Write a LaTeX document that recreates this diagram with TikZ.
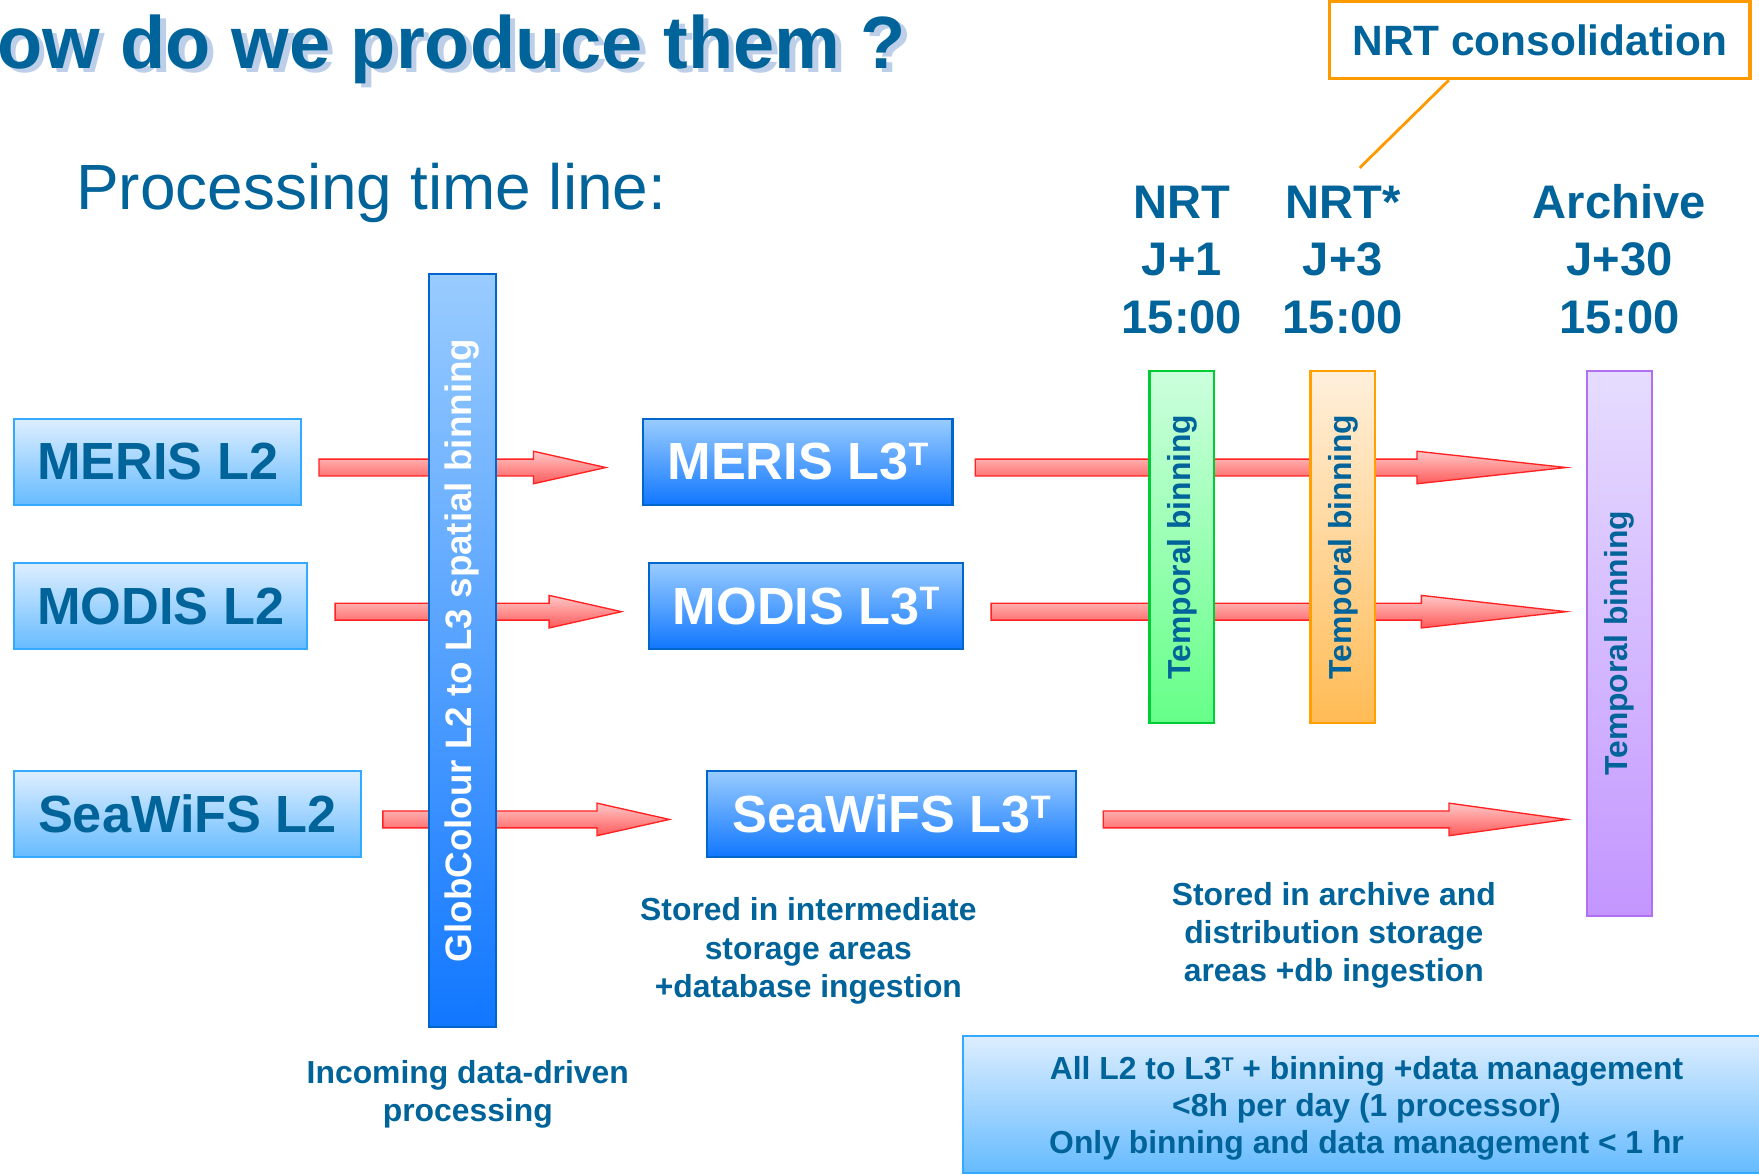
\documentclass[tikz,border=0pt]{standalone}
\usepackage{fontspec}
\setmainfont{Liberation Sans}
\usepackage{graphicx}
\usetikzlibrary{positioning,calc}
\pgfdeclarelayer{background}
\pgfsetlayers{background,main}
\definecolor{ptltext}{RGB}{0,99,153}
\definecolor{ptlshadow}{RGB}{189,207,232}
\definecolor{ptlorange}{RGB}{255,153,0}
\definecolor{ptltwotop}{RGB}{221,238,255}
\definecolor{ptltwobot}{RGB}{102,187,255}
\definecolor{ptltwoline}{RGB}{51,170,255}
\definecolor{ptlthreetop}{RGB}{153,204,255}
\definecolor{ptlthreebot}{RGB}{17,119,255}
\definecolor{ptlthreeline}{RGB}{0,102,204}
\definecolor{ptlarrowtop}{RGB}{255,200,200}
\definecolor{ptlarrowbot}{RGB}{255,90,90}
\definecolor{ptlarrowline}{RGB}{255,34,34}
\definecolor{ptlgreentop}{RGB}{204,255,221}
\definecolor{ptlgreenbot}{RGB}{102,255,136}
\definecolor{ptlgreenline}{RGB}{0,204,51}
\definecolor{ptlambertop}{RGB}{255,240,220}
\definecolor{ptlamberbot}{RGB}{255,187,85}
\definecolor{ptlamberline}{RGB}{255,160,0}
\definecolor{ptlvioletop}{RGB}{230,220,255}
\definecolor{ptlviolebot}{RGB}{195,150,255}
\definecolor{ptlvioleline}{RGB}{176,112,240}
\tikzstyle{l2box} = [draw = ptltwoline, line width = 1pt, top color = ptltwotop, bottom color = ptltwobot, text = ptltext, font = \bfseries\fontsize{23.3}{28}\selectfont, minimum height = 38.25pt, inner sep = 0pt]
\tikzstyle{l3box} = [l2box, draw = ptlthreeline, top color = ptlthreetop, bottom color = ptlthreebot, text = white]
\tikzstyle{binbar} = [line width = 1pt, minimum width = 28.85pt, inner sep = 0pt]
\tikzstyle{bartext} = [rotate = 90, text = ptltext, font = \bfseries\fontsize{14.2}{17}\selectfont]
\tikzstyle{redarrow} = [draw = ptlarrowline, line width = 0.6pt, top color = ptlarrowtop, bottom color = ptlarrowbot]
\tikzstyle{timelabel} = [align = center, inner sep = 0pt, text = ptltext, font = \bfseries\fontsize{21}{25.5}\selectfont]
\tikzstyle{notelabel} = [align = center, inner sep = 0pt, anchor = north, text = ptltext, font = \bfseries\fontsize{14.2}{17}\selectfont]
\newcommand{\lthree}{L3\raisebox{0.27em}{\scalebox{0.62}{T}}}
\newcommand{\ptlarrow}[3]{%
	\path[redarrow] ($(#1)+(0,-7.5)$) -- ($(#2)+(-#3,-7.5)$) -- ($(#2)+(-#3,-14.5)$) -- (#2) -- ($(#2)+(-#3,14.5)$) -- ($(#2)+(-#3,7.5)$) -- ($(#1)+(0,7.5)$) -- cycle;%
}

\begin{document}
\begin{tikzpicture}[x = 0.5pt, y = -0.5pt]
\useasboundingbox (0,0) rectangle (1568,1047.4);
\clip (0,0) rectangle (1568,1047.4);
\node[anchor = base west, inner sep = 0pt, text = ptlshadow, font = \bfseries\fontsize{33}{40}\selectfont] (titleshadow) at (2,64.6) {ow do we produce them ?};
\node[anchor = base west, inner sep = 0pt, text = ptltext, font = \bfseries\fontsize{33}{40}\selectfont] (title) at (-3,61) {ow do we produce them ?};
\node[anchor = base west, inner sep = 0pt, text = ptltext, font = \fontsize{28.5}{34}\selectfont] (subtitle) at (67.6,187) {Processing time line:};
\node[draw = ptlorange, line width = 1.5pt, minimum width = 187.5pt, minimum height = 34.25pt, inner sep = 0pt, text = ptltext, font = \bfseries\fontsize{18.9}{22}\selectfont] (nrtc) at (1372.5,35.75) {NRT consolidation};
\node[l2box, minimum width = 127.95pt] (merisA) at (140.65,411.75) {MERIS L2};
\node[l2box, minimum width = 130.55pt] (modisA) at (143.25,540.25) {MODIS L2};
\node[l2box, minimum width = 154.4pt] (seawifsA) at (167.1,725.45) {SeaWiFS L2};
\node[l3box, minimum width = 137.75pt] (merisB) at (711.25,411.75) {MERIS \lthree};
\node[l3box, minimum width = 140.1pt] (modisB) at (718.6,540.25) {MODIS \lthree};
\node[l3box, minimum width = 164.2pt] (seawifsB) at (794.7,725.45) {SeaWiFS \lthree};
\node[binbar, draw = ptlthreeline, top color = ptlthreetop, bottom color = ptlthreebot, minimum width = 29.85pt, minimum height = 335.7pt, label = {[rotate = 90, text = white, font = \bfseries\fontsize{16.4}{20}\selectfont]center:GlobColour L2 to L3 spatial binning}] (globbar) at (412.25,579.9) {};
\node[binbar, draw = ptlgreenline, top color = ptlgreentop, bottom color = ptlgreenbot, minimum height = 156.9pt, label = {[bartext]center:Temporal binning}] (tbA) at (1053.55,487.6) {};
\node[binbar, draw = ptlamberline, top color = ptlambertop, bottom color = ptlamberbot, minimum height = 156.9pt, label = {[bartext]center:Temporal binning}] (tbB) at (1197.05,487.6) {};
\node[binbar, draw = ptlvioleline, top color = ptlvioletop, bottom color = ptlviolebot, minimum height = 242.75pt, label = {[bartext]center:Temporal binning}] (tbC) at (1443.5,573.45) {};
\node[timelabel, above = 16pt of tbA] (nrtA) {NRT\\J+1\\15:00};
\node[timelabel, above = 16pt of tbB] (nrtB) {NRT*\\J+3\\15:00};
\node[timelabel, above = 16pt of tbC] (nrtC) {Archive\\J+30\\15:00};
\coordinate (nrtpt) at ($(nrtB.north)+(15,-16)$);
\draw[ptlorange, line width = 1.25pt] ($(nrtc.south west)+(108,0)$) -- (nrtpt);
\node[notelabel] (noteA) at (417,944.9) {Incoming data-driven\\processing};
\node[notelabel] (noteB) at (720.6,799.9) {Stored in intermediate\\storage areas\\+database ingestion};
\node[notelabel] (noteC) at (1189,785.9) {Stored in archive and\\distribution storage\\areas +db ingestion};
\node[draw = ptltwoline, line width = 1pt, top color = ptltwotop, bottom color = ptltwobot, minimum width = 359.85pt, minimum height = 61.05pt, inner sep = 0pt, align = center, text = ptltext, font = \bfseries\fontsize{14.2}{16.5}\selectfont] (summary) at (1218.15,984.25) {\rule{0pt}{14.4pt}All L2 to \lthree{} + binning +data management\\<8h per day (1 processor)\\Only binning and data management < 1 hr};
\coordinate (aMs) at ($(merisA.east)+(14.8,5)$);
\coordinate (aMt) at ($(merisB.west)+(-32.5,5)$);
\coordinate (aDs) at ($(modisA.east)+(23.9,5)$);
\coordinate (aDt) at ($(modisB.west)+(-23.5,5)$);
\coordinate (aSs) at ($(seawifsA.east)+(18.8,5)$);
\coordinate (aSt) at ($(seawifsB.west)+(-32.8,5)$);
\coordinate (bMs) at ($(merisB.east)+(19.3,5)$);
\coordinate (bMt) at ($(merisB.east -| tbC.west)+(-17.6,5)$);
\coordinate (bDs) at ($(modisB.east)+(23.8,5)$);
\coordinate (bDt) at ($(modisB.east -| tbC.west)+(-17.6,5)$);
\coordinate (bSs) at ($(seawifsB.east)+(23.5,5)$);
\coordinate (bSt) at ($(seawifsB.east -| tbC.west)+(-17,5)$);
\begin{pgfonlayer}{background}
\ptlarrow{aMs}{aMt}{64.5}
\ptlarrow{aDs}{aDt}{64.5}
\ptlarrow{aSs}{aSt}{64.5}
\ptlarrow{bMs}{bMt}{133}
\ptlarrow{bDs}{bDt}{129}
\ptlarrow{bSs}{bSt}{105}
\end{pgfonlayer}
\end{tikzpicture}
\end{document}
